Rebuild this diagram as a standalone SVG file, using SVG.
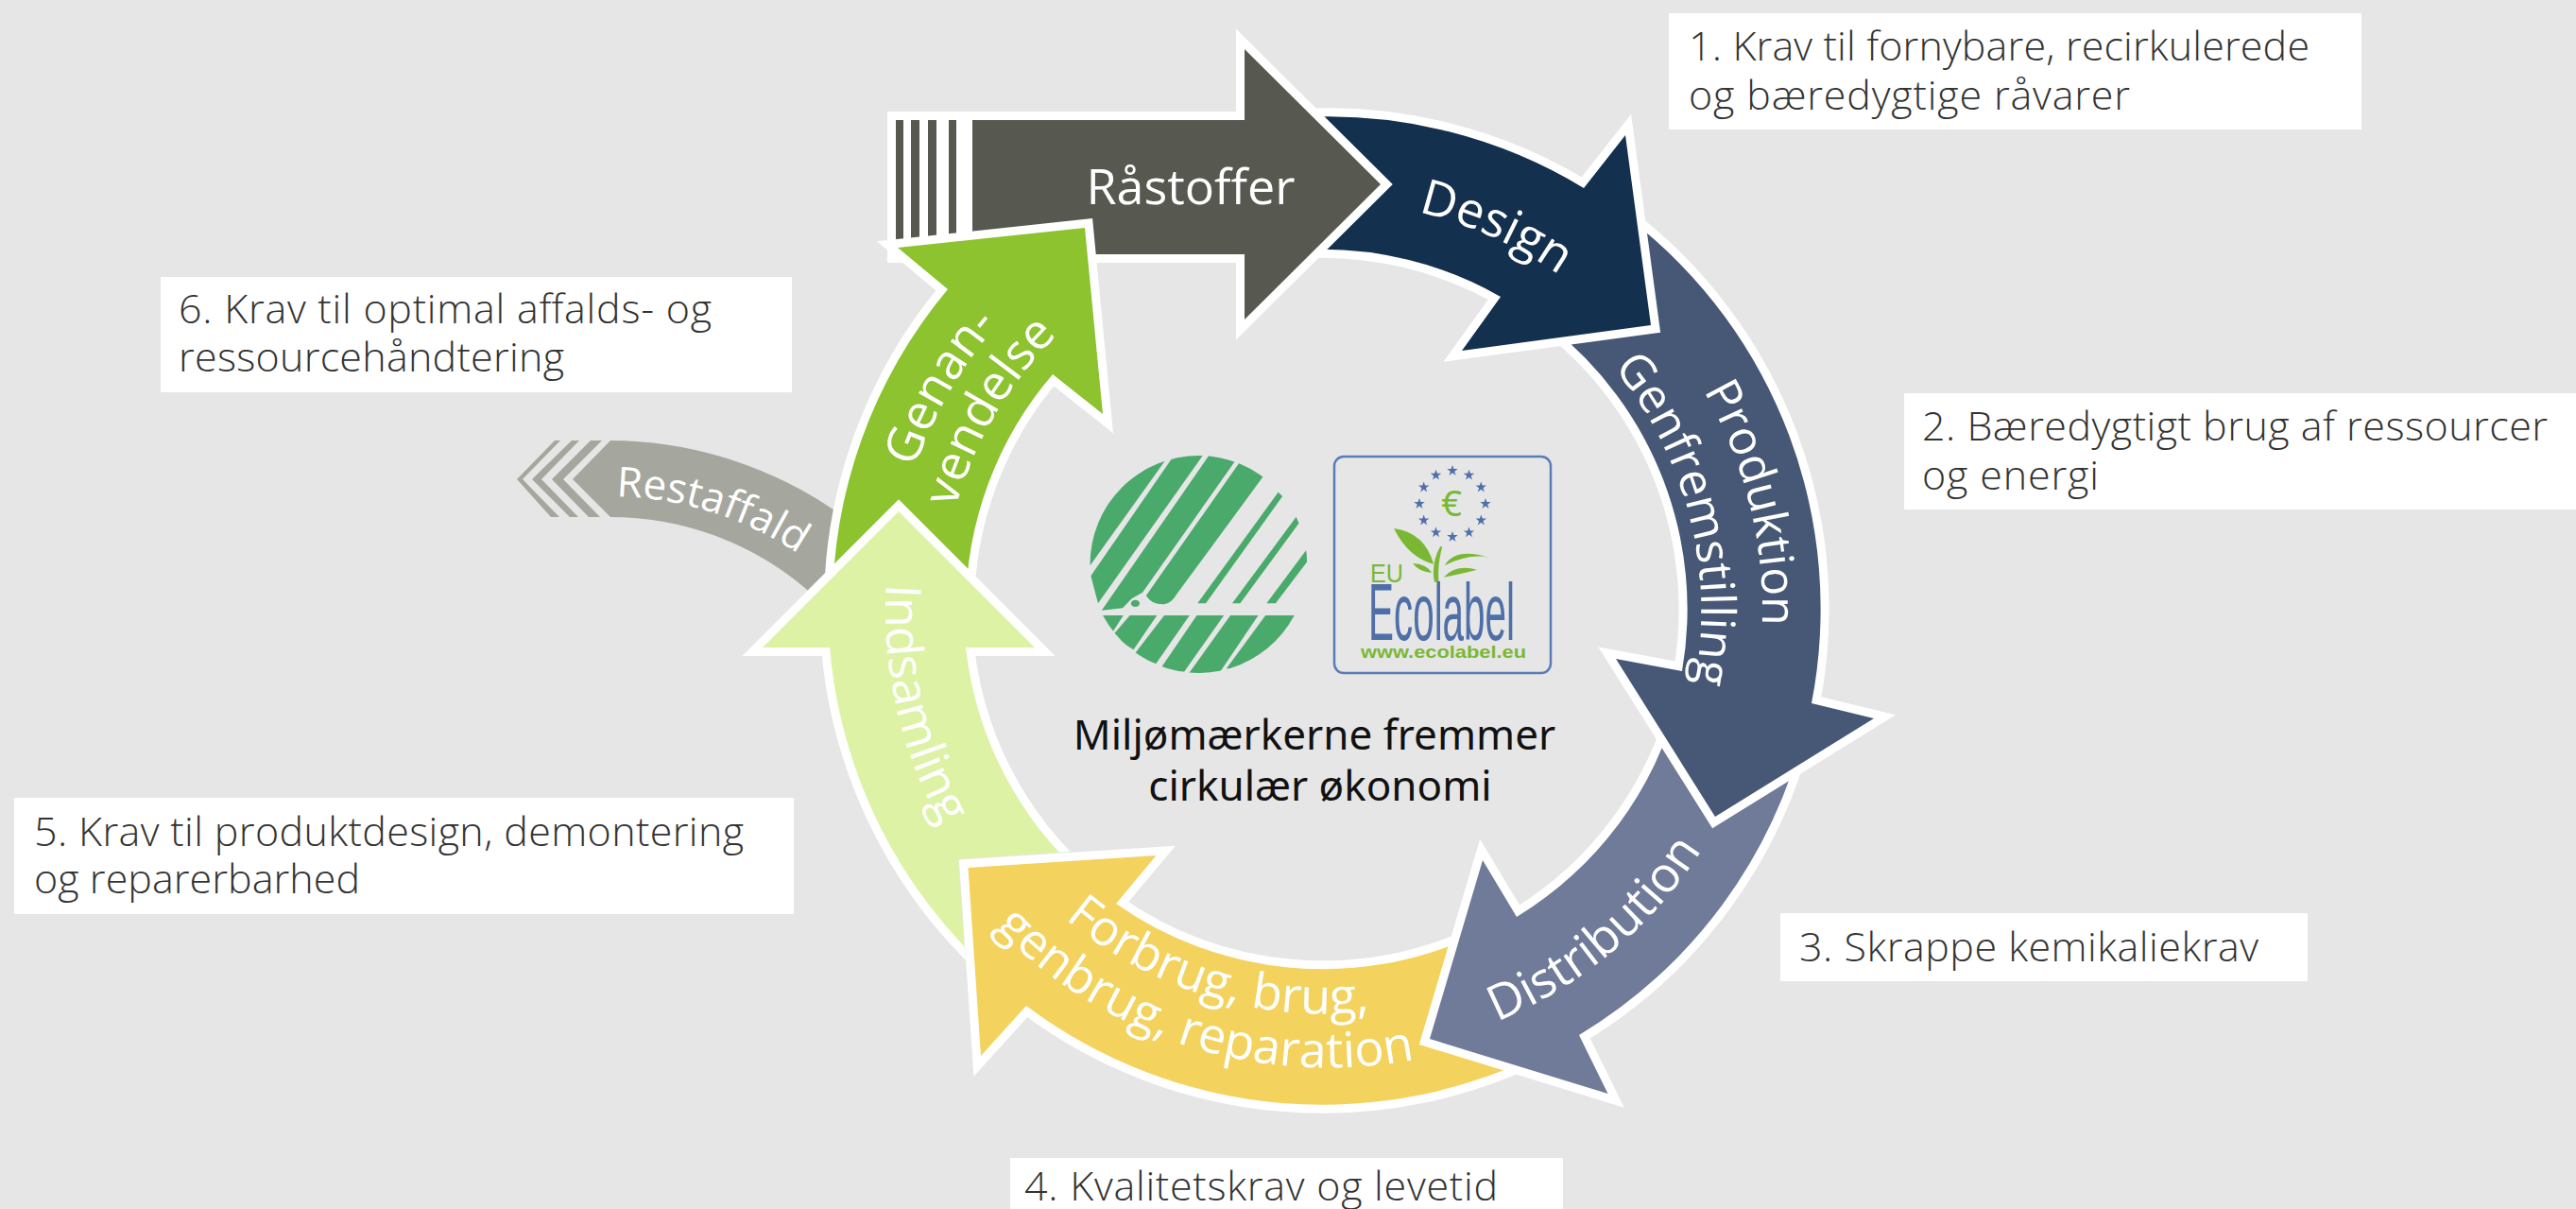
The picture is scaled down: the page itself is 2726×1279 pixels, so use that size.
<svg xmlns="http://www.w3.org/2000/svg" xmlns:xlink="http://www.w3.org/1999/xlink" width="2726" height="1279" viewBox="0 0 2726 1279">
<style>
.box{fill:#fff}
.b{font-family:"Open Sans",Lato,sans-serif;font-weight:300;font-size:43px;fill:#333}
.w{font-family:"Open Sans","Noto Sans",sans-serif;font-size:52px;font-weight:500;fill:#fff;text-anchor:middle}
.c{font-family:"Noto Sans","Open Sans",sans-serif;font-size:44px;fill:#111;text-anchor:middle}
.a{stroke:#fff;stroke-width:18;stroke-miterlimit:30;stroke-linejoin:miter;paint-order:stroke}
.s{fill:#4aaa6c}
.g{fill:#7ab833}
.st{fill:#4f6fa8}
</style>
<defs>
<path id="t-design" d="M1004.7,467.7A436,436 0 0 1 1801.3,822.3"/>
<path id="t-prod" d="M1291.2,196.7A462,462 0 0 1 1514.8,1093.3"/>
<path id="t-gen" d="M1302.8,254.7A403,403 0 0 1 1503.2,1035.3"/>
<path id="t-genan" d="M1173,1043.4A460,460 0 0 1 1633,246.6"/>
<path id="t-vend" d="M1195,998.3A410,410 0 0 1 1611,291.7"/>
<path id="t-dist" d="M1041.4,948.4A472,472 0 0 0 1764.6,341.6"/>
<path id="t-forb1" d="M989.9,518.7A432,432 0 0 0 1816.1,771.3"/>
<path id="t-forb2" d="M935.7,497.7A490,490 0 0 0 1870.3,792.3"/>
<path id="t-inds" d="M1298.2,190.9A466,466 0 0 0 1507.8,1099.1"/>
<path id="t-rest" d="M304.6,772.3A358,358 0 0 1 987.4,987.7"/>
<clipPath id="inds-clip"><polygon points="700,0 1500,0 1500,875.6 1014,909 1031,1142 1031,1279 700,1279"/></clipPath>
<clipPath id="swan-clip"><ellipse cx="440" cy="441" rx="300" ry="345"/></clipPath>
<polygon id="star" points="0,-6 1.4,-1.9 5.7,-1.9 2.2,.7 3.5,4.9 0,2.3 -3.5,4.9 -2.2,.7 -5.7,-1.9 -1.4,-1.9"/>
</defs>
<rect width="2726" height="1279" fill="#e6e6e6"/>

<g id="note-1"><rect class="box" x="1766" y="14" width="733" height="123"/>
<text class="b" x="1787" y="64" textLength="657">1. Krav til fornybare, recirkulerede</text>
<text class="b" x="1787" y="116" textLength="467">og bæredygtige råvarer</text></g>
<g id="note-2"><rect class="box" x="2015" y="416" width="711" height="123"/>
<text class="b" x="2034" y="466" textLength="662">2. Bæredygtigt brug af ressourcer</text>
<text class="b" x="2034" y="518" textLength="187">og energi</text></g>
<g id="note-3"><rect class="box" x="1884" y="966" width="558" height="72"/>
<text class="b" x="1904" y="1017" textLength="486">3. Skrappe kemikaliekrav</text></g>
<g id="note-4"><rect class="box" x="1069" y="1225" width="585" height="54"/>
<text class="b" x="1084" y="1270" textLength="501">4. Kvalitetskrav og levetid</text></g>
<g id="note-5"><rect class="box" x="15" y="844" width="825" height="123"/>
<text class="b" x="36" y="895" textLength="751">5. Krav til produktdesign, demontering</text>
<text class="b" x="36" y="945" textLength="345">og reparerbarhed</text></g>
<g id="note-6"><rect class="box" x="170" y="293" width="668" height="122"/>
<text class="b" x="189" y="342" textLength="564">6. Krav til optimal affalds- og</text>
<text class="b" x="189" y="393" textLength="408">ressourcehåndtering</text></g>

<g id="restaffald" fill="#a5a69e">
<path d="M646,466A424,424 0 0 1 900,552L875,645L853,623A320,320 0 0 0 646,547L606,507Z"/>
<polygon points="625,466 584,507 623,547 635,547 596,507 637,466"/>
<polygon points="605,466 563,507 603,547 612,547 573,507 613,466"/>
<polygon points="587,466 547,507 583,547 592,547 553,507 593,466"/>
<text class="w" style="font-size:44px"><textPath xlink:href="#t-rest" href="#t-rest" startOffset="50%">Restaffald</textPath></text>
</g>

<g id="forbrug">
<path class="a" fill="#f4d25e" d="M1640,1110A522,522 0 0 1 1086,1064L1038,1117L1024.5,918L1223.5,905L1181,956A381,381 0 0 0 1560,990Z"/>
<text class="w"><textPath xlink:href="#t-forb1" href="#t-forb1" startOffset="50%">Forbrug, brug,</textPath></text>
<text class="w"><textPath xlink:href="#t-forb2" href="#t-forb2" startOffset="50%">genbrug, reparation</textPath></text>
</g>
<g id="distribution">
<path class="a" fill="#6f7b98" d="M1910,770A522,522 0 0 1 1671,1095L1701.5,1157L1513,1099L1569,910L1605,970A381,381 0 0 0 1776,740Z"/>
<text class="w"><textPath xlink:href="#t-dist" href="#t-dist" startOffset="50%">Distribution</textPath></text>
</g>
<g id="produktion">
<path class="a" fill="#465875" d="M1725,232A522,522 0 0 1 1917,744L1983,760L1815,864L1710,697L1780,710A381,381 0 0 0 1640,345Z"/>
<text class="w" style="font-size:50px"><textPath xlink:href="#t-prod" href="#t-prod" startOffset="50%">Produktion</textPath></text>
<text class="w" style="font-size:50px"><textPath xlink:href="#t-gen" href="#t-gen" startOffset="50%">Genfremstilling</textPath></text>
</g>
<g id="design">
<path class="a" fill="#14304f" d="M1380,124A522,522 0 0 1 1676,199L1720,143L1747,344L1547,371L1588,314A381,381 0 0 0 1385,264Z"/>
<text class="w"><textPath xlink:href="#t-design" href="#t-design" startOffset="50%">Design</textPath></text>
</g>
<g id="raastoffer">
<polygon class="a" fill="#fff" points="948,127 1317,127 1317,52 1461,195 1317,338 1317,269 948,269"/>
<polygon fill="#575850" points="1029,127 1317,127 1317,52 1461,195 1317,338 1317,269 1029,269"/>
<g fill="#575850"><rect x="948" y="127" width="8" height="142"/><rect x="964" y="127" width="9" height="142"/><rect x="982" y="127" width="9" height="142"/><rect x="1004" y="127" width="8" height="142"/></g>
<text class="w" x="1260" y="216">Råstoffer</text>
</g>
<g id="genanvendelse">
<path class="a" fill="#8cc32e" d="M881,645A522,522 0 0 1 1003,306L950,262L1148,241L1167,438L1114,396A381,381 0 0 0 1022,645Z"/>
<text class="w"><textPath xlink:href="#t-genan" href="#t-genan" startOffset="50%">Genan-</textPath></text>
<text class="w"><textPath xlink:href="#t-vend" href="#t-vend" startOffset="50%">vendelse</textPath></text>
</g>
<g id="indsamling" clip-path="url(#inds-clip)">
<path class="a" fill="#def2a6" d="M878,685A522,522 0 0 0 1050,1030L1150,930A381,381 0 0 1 1022,685L1095,685L951,541L807,685Z"/>
<text class="w"><textPath xlink:href="#t-inds" href="#t-inds" startOffset="50%">Indsamling</textPath></text>
</g>

<g id="svanemaerket" transform="translate(1100,450) scale(.3827,.3333)">
<g clip-path="url(#swan-clip)" class="s">
<polygon points="355,100 140,445 60,300 250,60"/>
<polygon points="375,90 142,478 162,565 455,90"/>
<polygon points="472,90 172,587 230,580 255,550 285,530 540,115"/>
<path d="M553,118L295,540Q310,570 345,568Q365,565 380,535L620,160Z"/>
<polygon points="660,212 672,225 460,565 437,565"/>
<polygon points="710,290 718,310 555,565 533,565"/>
<polygon points="738,395 745,425 653,565 628,565"/>
<polygon points="170,603 232,603 203,655 150,610"/>
<polygon points="250,603 325,603 260,712 200,670"/>
<polygon points="345,603 415,603 322,757 260,730"/>
<polygon points="435,603 510,603 400,782 330,780"/>
<polygon points="528,603 605,603 495,790 405,800"/>
<polygon points="625,603 720,603 640,790 517,772"/>
</g>
<ellipse class="s" cx="265" cy="565" rx="12" ry="11"/>
</g>

<g id="ecolabel">
<rect x="1412" y="483" width="229" height="229" rx="10" fill="none" stroke="#5b7db5" stroke-width="2.5"/>
<g class="st">
<use href="#star" x="1537" y="498"/><use href="#star" x="1554.5" y="502.7"/><use href="#star" x="1567.3" y="515.5"/><use href="#star" x="1572" y="533"/><use href="#star" x="1567.3" y="550.5"/><use href="#star" x="1554.5" y="563.3"/><use href="#star" x="1537" y="568"/><use href="#star" x="1519.5" y="563.3"/><use href="#star" x="1506.7" y="550.5"/><use href="#star" x="1502" y="533"/><use href="#star" x="1506.7" y="515.5"/><use href="#star" x="1519.5" y="502.7"/>
</g>
<text x="1536" y="546" font-family="'Noto Sans',sans-serif" font-size="38" fill="#7ab833" text-anchor="middle">€</text>
<g class="g" transform="translate(1100,450) scale(.3827,.3333)">
<path d="M980,327Q1065,340 1090,440Q1020,420 980,327Z"/>
<path d="M1032,438Q1070,440 1085,468Q1050,465 1032,438Z"/>
<path d="M1108,385Q1082,440 1092,497L1104,497Q1100,440 1114,385Z"/>
<path d="M1120,445Q1150,385 1245,420Q1190,405 1120,445Z"/>
<path d="M1118,482Q1150,440 1210,458Q1170,470 1118,482Z"/>
</g>
<text x="1450" y="616" font-family="'Liberation Sans',sans-serif" font-size="28" fill="#7ab833" textLength="35" lengthAdjust="spacingAndGlyphs">EU</text>
<text x="1448" y="677" font-family="'Liberation Sans',sans-serif" font-size="86" fill="#4f6fa8" textLength="155" lengthAdjust="spacingAndGlyphs">Ecolabel</text>
<text x="1440" y="696" font-family="'Liberation Sans',sans-serif" font-weight="700" font-size="19" fill="#7ab833" textLength="175" lengthAdjust="spacingAndGlyphs">www.ecolabel.eu</text>
</g>

<g id="center-label">
<text class="c" x="1391" y="793">Miljømærkerne fremmer</text>
<text class="c" x="1397" y="847">cirkulær økonomi</text>
</g>
</svg>
